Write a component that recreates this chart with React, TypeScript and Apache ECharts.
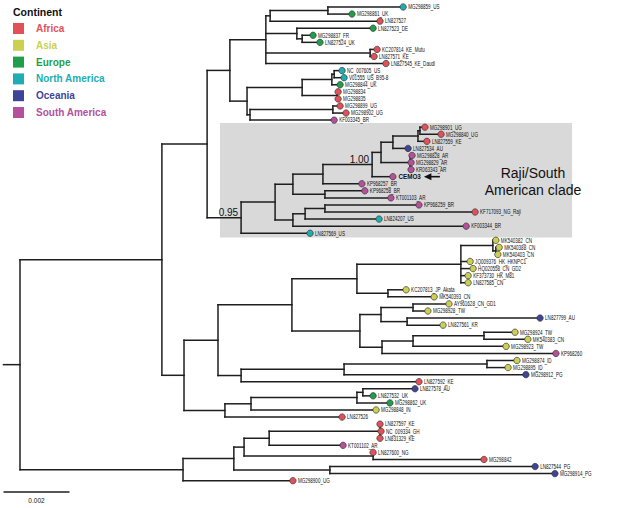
import React, { useEffect, useRef } from "react";
import * as echarts from "echarts";

// Depths are in 10^-3 substitutions/site (scale bar of 2 units = 0.002)
const FONT = "Liberation Sans, Arial, Helvetica, sans-serif";

const continents = ["Africa", "Asia", "Europe", "North America", "Oceania", "South America"];
const continentColors = ["#e2515a", "#cbcf52", "#1f9f4b", "#1eadb2", "#3f4498", "#b5509d"];

const tipNames = [
  "MG298859_US", "MG298861_UK", "LN827527", "LN827523_DE", "MG298837_FR", "LN827524_UK",
  "KC207814_KE_Mutu", "LN827571_KE", "LN827545_KE_Daudi", "NC_007605_US", "V01555_US_B95-8",
  "MG298844_UK", "MG298834", "MG298835", "MG298899_UG", "MG298902_UG", "KF003345_BR",
  "MG298901_UG", "MG298840_UG", "LN827559_KE", "LN827534_AU", "MG298828_AR", "MG298829_AR",
  "KR063343_AR", "CEMO3", "KP968257_BR", "KP968258_BR", "KT001103_AR", "KP968259_BR",
  "KF717093_NG_Raji", "LN824207_US", "KF003344_BR", "LN827569_US",
  "MK540382_CN", "MK540388_CN", "MK540403_CN", "JQ009376_HK_HKNPC1", "HQ020558_CN_GD2",
  "KF373730_HK_M81", "LN827585_CN", "KC207813_JP_Akata", "MK540393_CN", "AY961628_CN_GD1",
  "MG298928_TW", "LN827799_AU", "LN827561_KR", "MG298924_TW", "MK540383_CN", "MG298923_TW",
  "KP968260", "MG298874_ID", "MG298895_ID", "MG298912_PG", "LN827592_KE", "LN827578_AU",
  "LN827532_UK", "MG298862_UK", "MG298848_IN", "LN827526", "LN827597_KE", "NC_009334_GH",
  "LN831329_KE", "KT001102_AR", "LN827600_NG", "MG298842", "LN827544_PG", "MG298914_PG", "MG298900_UG",
];

const tipContinents = [
  "North America", "Europe", "Africa", "Europe", "Europe", "Europe",
  "Africa", "Africa", "Africa", "North America", "North America",
  "Europe", "Africa", "Africa", "Africa", "Africa", "South America",
  "Africa", "Africa", "Africa", "Oceania", "South America", "South America",
  "South America", "South America", "South America", "South America", "South America", "South America",
  "Africa", "North America", "South America", "North America",
  "Asia", "Asia", "Asia", "Asia", "Asia",
  "Asia", "Asia", "Asia", "Asia", "Asia",
  "Asia", "Oceania", "Asia", "Asia", "Asia", "Asia",
  "South America", "Asia", "Asia", "Oceania", "Africa", "Oceania",
  "Europe", "Europe", "Asia", "Africa", "Africa", "Africa",
  "Africa", "South America", "Africa", "Africa", "Oceania", "Oceania", "Africa",
];

const tipDepths = [
  11.61, 10.06, 10.91, 10.7, 8.88, 9.09, 10.82, 10.73, 11.09, 9.76, 9.82, 9.7, 9.64, 9.64, 9.7, 9.88, 9.52,
  12.27, 12.76, 12.33, 11.76, 11.88, 11.85, 11.85, 11.3, 10.36, 10.45, 11.24, 12.09, 13.79, 10.88, 13.52, 8.79,
  14.42, 14.52, 14.48, 13.64, 13.73, 13.58, 13.58, 11.7, 12.55, 13.0, 12.36, 15.76, 12.82, 15.0, 15.39, 14.73, 16.24,
  15.06, 14.79, 15.33, 12.09, 11.97, 10.7, 11.21, 10.79, 9.76, 10.91, 10.94, 10.91, 9.79, 10.7, 14.06, 15.61, 16.21, 8.27,
];

const highlightedTips = ["CEMO3"];

type TreeNode = { d: number; c: (TreeNode | number)[]; s?: number };
const N = (d: number, c: (TreeNode | number)[], s?: number): TreeNode => ({ d, c, s });

// Topology: numbers are 1-based tip numbers; d = node depth; s = posterior support shown
const tree: TreeNode = N(0, [
  N(4.3, [
    N(5.67, [
      N(6.36, [
        N(7.45, [N(7.58, [N(9.33, [1, 2]), 3]), N(8.39, [4, N(8.55, [5, 6])]), N(10.61, [7, 8]), 9]),
        N(6.88, [
          N(8.55, [N(9.45, [N(9.52, [10, 11]), 12]), N(9.61, [13, 14])]),
          N(6.97, [N(9.48, [15, 16]), 17]),
        ]),
      ]),
      N(6.7, [
        N(7.73, [
          N(8.27, [
            N(9.18, [
              N(10.67, [
                N(10.94, [N(11.3, [N(12.06, [N(12.12, [18, 19]), 20]), 21]), N(11.82, [22, 23, 24])]),
                25,
              ], 1.0),
              26,
            ]),
            N(9.24, [27, 28]),
          ]),
          N(8.27, [N(8.64, [N(9.24, [29, 30]), 31]), 32]),
        ]),
        33,
      ], 0.95),
    ]),
    N(4.97, [
      N(6.0, [
        N(8.24, [
          N(10.21, [
            N(13.36, [N(14.33, [34, N(14.42, [35, 36])]), 37, 38, 39, 40]),
            N(11.15, [41, 42]),
          ]),
          N(10.3, [
            N(10.94, [N(11.91, [43, 44]), N(11.73, [45, 46])]),
            N(10.97, [N(11.91, [N(14.06, [47, 48]), 49]), 50]),
          ]),
        ]),
        N(6.7, [N(9.82, [N(14.15, [51, 52]), 53]), 54]),
      ]),
      N(6.21, [N(7.0, [N(10.21, [N(10.39, [55, 56]), 57]), 58]), 59]),
    ]),
  ]),
  N(4.94, [
    N(6.48, [
      N(6.79, [N(7.55, [N(10.91, [60, 61, 62]), 63]), N(10.7, [64, 65])]),
      N(9.39, [66, 67]),
    ]),
    68,
  ]),
]);

const rootStubStart = -0.5;
const scaleBar = { from: -0.5, length: 2, label: "0.002", row: 68.6 };
const clade = { firstTip: 18, lastTip: 33, from: 6.06, to: 16.73, label: "Raji/South\nAmerican clade" };

function layoutTree() {
  const edges: number[][] = [];
  const supports: number[][] = [];
  const walk = (n: TreeNode | number): { x: number; y: number } => {
    if (typeof n === "number") return { x: tipDepths[n - 1], y: n - 1 };
    const kids = n.c.map(walk);
    const y0 = kids[0].y;
    const y1 = kids[kids.length - 1].y;
    const y = (y0 + y1) / 2;
    kids.forEach((k) => edges.push([n.d, k.y, k.x, k.y]));
    edges.push([n.d, y0, n.d, y1]);
    if (n.s != null) supports.push([n.d, y, n.s]);
    return { x: n.d, y };
  };
  const r = walk(tree);
  edges.push([rootStubStart, r.y, r.x, r.y]);
  return { edges, supports };
}

export default function App() {
  const ref = useRef<HTMLDivElement>(null);
  useEffect(() => {
    if (!ref.current) return;
    const chart = echarts.init(ref.current, undefined, { renderer: "svg" });
    const { edges, supports } = layoutTree();
    const tipData = tipNames.map((_, i) => [tipDepths[i], i]);

    const legend: any[] = [
      {
        type: "text", x: 13, y: 12, z: 100,
        style: { text: "Continent", fontSize: 10.5, fontWeight: "bold", fill: "#111", fontFamily: FONT, verticalAlign: "middle", textVerticalAlign: "middle" },
      },
    ];
    continents.forEach((c, i) => {
      legend.push({ type: "rect", z: 100, shape: { x: 13, y: 23 + i * 16.8, width: 11, height: 11 }, style: { fill: continentColors[i] } });
      legend.push({
        type: "text", x: 36, y: 28.5 + i * 16.8, z: 100,
        style: { text: c, fontSize: 10, fontWeight: "bold", fill: continentColors[i], fontFamily: FONT, verticalAlign: "middle", textVerticalAlign: "middle" },
      });
    });
    legend.push({
      type: "text", x: 533, y: 181, z: 100,
      style: {
        text: clade.label, fontSize: 14, lineHeight: 17, fill: "#111", fontFamily: FONT,
        align: "center", textAlign: "center", verticalAlign: "middle", textVerticalAlign: "middle",
      },
    });

    const option: any = {
      animation: false,
      backgroundColor: "#ffffff",
      grid: { left: 3.5, top: 7, width: 594, height: 494.9 },
      xAxis: { type: "value", min: -0.5, max: 17.5, show: false },
      yAxis: { type: "value", min: 0, max: 70, inverse: true, show: false },
      graphic: { elements: legend, z: 100 },
      series: [
        {
          type: "custom", silent: true, z: 1,
          data: [[clade.from, clade.firstTip - 1 - 0.6, clade.to, clade.lastTip - 1 + 0.6]],
          renderItem: (_p: any, api: any) => {
            const a = api.coord([api.value(0), api.value(1)]);
            const b = api.coord([api.value(2), api.value(3)]);
            return { type: "rect", shape: { x: a[0], y: a[1], width: b[0] - a[0], height: b[1] - a[1] }, style: { fill: "#d9d9d9" } };
          },
        },
        {
          type: "custom", silent: true, z: 2,
          data: edges,
          renderItem: (_p: any, api: any) => {
            const a = api.coord([api.value(0), api.value(1)]);
            const b = api.coord([api.value(2), api.value(3)]);
            return { type: "line", shape: { x1: a[0], y1: a[1], x2: b[0], y2: b[1] }, style: { stroke: "#1e1e1e", lineWidth: 1.5, lineCap: "square" } };
          },
        },
        {
          type: "custom", silent: true, z: 3,
          data: tipData,
          renderItem: (_p: any, api: any) => {
            const i = api.value(1);
            const p = api.coord([api.value(0), i]);
            const name = tipNames[i];
            const col = continentColors[continents.indexOf(tipContinents[i])];
            const hl = highlightedTips.includes(name);
            const children: any[] = [
              { type: "circle", shape: { cx: p[0], cy: p[1], r: 3.2 }, style: { fill: col, stroke: "#333", lineWidth: 0.7 } },
              {
                type: "text", x: p[0] + (hl ? 5.6 : 5), y: p[1], scaleX: hl ? 0.9 : 0.7,
                style: {
                  text: name, fontSize: hl ? 7 : 6.5, fontWeight: hl ? "bold" : "normal", fontFamily: FONT, fill: "#111",
                  align: "left", verticalAlign: "middle",
                },
              },
            ];
            if (hl) {
              children.push({ type: "polygon", shape: { points: [[p[0] + 31, p[1]], [p[0] + 38.5, p[1] - 3.5], [p[0] + 38.5, p[1] + 3.5]] }, style: { fill: "#111" } });
              children.push({ type: "line", shape: { x1: p[0] + 37, y1: p[1], x2: p[0] + 47, y2: p[1] }, style: { stroke: "#111", lineWidth: 1.6 } });
            }
            return { type: "group", children };
          },
        },
        {
          type: "custom", silent: true, z: 4,
          data: supports,
          renderItem: (_p: any, api: any) => {
            const p = api.coord([api.value(0), api.value(1)]);
            return {
              type: "text", x: p[0] - 3, y: p[1] - 5,
              style: { text: api.value(2).toFixed(2), fontSize: 10, fontFamily: FONT, fill: "#111", align: "right", verticalAlign: "middle" },
            };
          },
        },
        {
          type: "custom", silent: true, z: 4,
          data: [[scaleBar.from, scaleBar.row, scaleBar.from + scaleBar.length, scaleBar.row]],
          renderItem: (_p: any, api: any) => {
            const a = api.coord([api.value(0), api.value(1)]);
            const b = api.coord([api.value(2), api.value(3)]);
            return {
              type: "group",
              children: [
                { type: "line", shape: { x1: a[0], y1: a[1], x2: b[0], y2: b[1] }, style: { stroke: "#1e1e1e", lineWidth: 1.5 } },
                {
                  type: "text", x: (a[0] + b[0]) / 2, y: a[1] + 8,
                  style: { text: scaleBar.label, fontSize: 6.5, fontFamily: FONT, fill: "#222", align: "center", verticalAlign: "middle" },
                },
              ],
            };
          },
        },
      ],
    };
    chart.setOption(option);
    return () => chart.dispose();
  }, []);
  return (
    <div
      ref={ref}
      style={{ position: "fixed", left: 0, top: 0, width: 624, height: 508, background: "#fff" }}
    />
  );
}
